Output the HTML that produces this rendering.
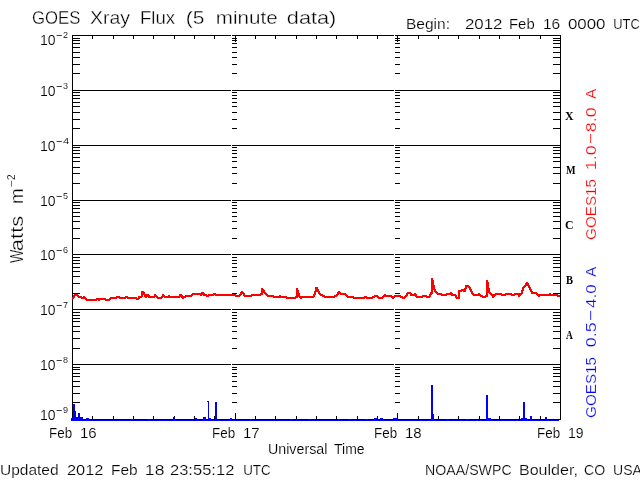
<!DOCTYPE html><html><head><meta charset="utf-8"><title>GOES Xray Flux</title><style>html,body{margin:0;padding:0;background:#fff;width:640px;height:480px;overflow:hidden}svg{display:block}</style></head><body><svg width="640" height="480" viewBox="0 0 640 480"><rect width="640" height="480" fill="#fff"/><g shape-rendering="crispEdges"><rect x="72" y="35" width="159" height="1" fill="#000"/><rect x="232" y="35" width="162" height="1" fill="#000"/><rect x="395" y="35" width="166" height="1" fill="#000"/><rect x="72" y="90" width="159" height="1" fill="#000"/><rect x="232" y="90" width="162" height="1" fill="#000"/><rect x="395" y="90" width="166" height="1" fill="#000"/><rect x="72" y="145" width="159" height="1" fill="#000"/><rect x="232" y="145" width="162" height="1" fill="#000"/><rect x="395" y="145" width="166" height="1" fill="#000"/><rect x="72" y="200" width="159" height="1" fill="#000"/><rect x="232" y="200" width="162" height="1" fill="#000"/><rect x="395" y="200" width="166" height="1" fill="#000"/><rect x="72" y="254" width="159" height="1" fill="#000"/><rect x="232" y="254" width="162" height="1" fill="#000"/><rect x="395" y="254" width="166" height="1" fill="#000"/><rect x="72" y="309" width="159" height="1" fill="#000"/><rect x="232" y="309" width="162" height="1" fill="#000"/><rect x="395" y="309" width="166" height="1" fill="#000"/><rect x="72" y="364" width="159" height="1" fill="#000"/><rect x="232" y="364" width="162" height="1" fill="#000"/><rect x="395" y="364" width="166" height="1" fill="#000"/><rect x="72" y="419" width="159" height="1" fill="#000"/><rect x="232" y="419" width="162" height="1" fill="#000"/><rect x="395" y="419" width="166" height="1" fill="#000"/><rect x="72" y="35" width="1" height="385" fill="#000"/><rect x="560" y="35" width="1" height="385" fill="#000"/><rect x="72" y="73" width="8" height="1" fill="#000"/><rect x="553" y="73" width="8" height="1" fill="#000"/><rect x="232" y="73" width="5" height="1" fill="#000"/><rect x="395" y="73" width="5" height="1" fill="#000"/><rect x="72" y="64" width="8" height="1" fill="#000"/><rect x="553" y="64" width="8" height="1" fill="#000"/><rect x="232" y="64" width="5" height="1" fill="#000"/><rect x="395" y="64" width="5" height="1" fill="#000"/><rect x="72" y="57" width="8" height="1" fill="#000"/><rect x="553" y="57" width="8" height="1" fill="#000"/><rect x="232" y="57" width="5" height="1" fill="#000"/><rect x="395" y="57" width="5" height="1" fill="#000"/><rect x="72" y="52" width="8" height="1" fill="#000"/><rect x="553" y="52" width="8" height="1" fill="#000"/><rect x="232" y="52" width="5" height="1" fill="#000"/><rect x="395" y="52" width="5" height="1" fill="#000"/><rect x="72" y="47" width="8" height="1" fill="#000"/><rect x="553" y="47" width="8" height="1" fill="#000"/><rect x="232" y="47" width="5" height="1" fill="#000"/><rect x="395" y="47" width="5" height="1" fill="#000"/><rect x="72" y="43" width="8" height="1" fill="#000"/><rect x="553" y="43" width="8" height="1" fill="#000"/><rect x="232" y="43" width="5" height="1" fill="#000"/><rect x="395" y="43" width="5" height="1" fill="#000"/><rect x="72" y="40" width="8" height="1" fill="#000"/><rect x="553" y="40" width="8" height="1" fill="#000"/><rect x="232" y="40" width="5" height="1" fill="#000"/><rect x="395" y="40" width="5" height="1" fill="#000"/><rect x="72" y="38" width="8" height="1" fill="#000"/><rect x="553" y="38" width="8" height="1" fill="#000"/><rect x="232" y="38" width="5" height="1" fill="#000"/><rect x="395" y="38" width="5" height="1" fill="#000"/><rect x="72" y="128" width="8" height="1" fill="#000"/><rect x="553" y="128" width="8" height="1" fill="#000"/><rect x="232" y="128" width="5" height="1" fill="#000"/><rect x="395" y="128" width="5" height="1" fill="#000"/><rect x="72" y="119" width="8" height="1" fill="#000"/><rect x="553" y="119" width="8" height="1" fill="#000"/><rect x="232" y="119" width="5" height="1" fill="#000"/><rect x="395" y="119" width="5" height="1" fill="#000"/><rect x="72" y="112" width="8" height="1" fill="#000"/><rect x="553" y="112" width="8" height="1" fill="#000"/><rect x="232" y="112" width="5" height="1" fill="#000"/><rect x="395" y="112" width="5" height="1" fill="#000"/><rect x="72" y="106" width="8" height="1" fill="#000"/><rect x="553" y="106" width="8" height="1" fill="#000"/><rect x="232" y="106" width="5" height="1" fill="#000"/><rect x="395" y="106" width="5" height="1" fill="#000"/><rect x="72" y="102" width="8" height="1" fill="#000"/><rect x="553" y="102" width="8" height="1" fill="#000"/><rect x="232" y="102" width="5" height="1" fill="#000"/><rect x="395" y="102" width="5" height="1" fill="#000"/><rect x="72" y="98" width="8" height="1" fill="#000"/><rect x="553" y="98" width="8" height="1" fill="#000"/><rect x="232" y="98" width="5" height="1" fill="#000"/><rect x="395" y="98" width="5" height="1" fill="#000"/><rect x="72" y="95" width="8" height="1" fill="#000"/><rect x="553" y="95" width="8" height="1" fill="#000"/><rect x="232" y="95" width="5" height="1" fill="#000"/><rect x="395" y="95" width="5" height="1" fill="#000"/><rect x="72" y="92" width="8" height="1" fill="#000"/><rect x="553" y="92" width="8" height="1" fill="#000"/><rect x="232" y="92" width="5" height="1" fill="#000"/><rect x="395" y="92" width="5" height="1" fill="#000"/><rect x="72" y="183" width="8" height="1" fill="#000"/><rect x="553" y="183" width="8" height="1" fill="#000"/><rect x="232" y="183" width="5" height="1" fill="#000"/><rect x="395" y="183" width="5" height="1" fill="#000"/><rect x="72" y="173" width="8" height="1" fill="#000"/><rect x="553" y="173" width="8" height="1" fill="#000"/><rect x="232" y="173" width="5" height="1" fill="#000"/><rect x="395" y="173" width="5" height="1" fill="#000"/><rect x="72" y="167" width="8" height="1" fill="#000"/><rect x="553" y="167" width="8" height="1" fill="#000"/><rect x="232" y="167" width="5" height="1" fill="#000"/><rect x="395" y="167" width="5" height="1" fill="#000"/><rect x="72" y="161" width="8" height="1" fill="#000"/><rect x="553" y="161" width="8" height="1" fill="#000"/><rect x="232" y="161" width="5" height="1" fill="#000"/><rect x="395" y="161" width="5" height="1" fill="#000"/><rect x="72" y="157" width="8" height="1" fill="#000"/><rect x="553" y="157" width="8" height="1" fill="#000"/><rect x="232" y="157" width="5" height="1" fill="#000"/><rect x="395" y="157" width="5" height="1" fill="#000"/><rect x="72" y="153" width="8" height="1" fill="#000"/><rect x="553" y="153" width="8" height="1" fill="#000"/><rect x="232" y="153" width="5" height="1" fill="#000"/><rect x="395" y="153" width="5" height="1" fill="#000"/><rect x="72" y="150" width="8" height="1" fill="#000"/><rect x="553" y="150" width="8" height="1" fill="#000"/><rect x="232" y="150" width="5" height="1" fill="#000"/><rect x="395" y="150" width="5" height="1" fill="#000"/><rect x="72" y="147" width="8" height="1" fill="#000"/><rect x="553" y="147" width="8" height="1" fill="#000"/><rect x="232" y="147" width="5" height="1" fill="#000"/><rect x="395" y="147" width="5" height="1" fill="#000"/><rect x="72" y="238" width="8" height="1" fill="#000"/><rect x="553" y="238" width="8" height="1" fill="#000"/><rect x="232" y="238" width="5" height="1" fill="#000"/><rect x="395" y="238" width="5" height="1" fill="#000"/><rect x="72" y="228" width="8" height="1" fill="#000"/><rect x="553" y="228" width="8" height="1" fill="#000"/><rect x="232" y="228" width="5" height="1" fill="#000"/><rect x="395" y="228" width="5" height="1" fill="#000"/><rect x="72" y="221" width="8" height="1" fill="#000"/><rect x="553" y="221" width="8" height="1" fill="#000"/><rect x="232" y="221" width="5" height="1" fill="#000"/><rect x="395" y="221" width="5" height="1" fill="#000"/><rect x="72" y="216" width="8" height="1" fill="#000"/><rect x="553" y="216" width="8" height="1" fill="#000"/><rect x="232" y="216" width="5" height="1" fill="#000"/><rect x="395" y="216" width="5" height="1" fill="#000"/><rect x="72" y="212" width="8" height="1" fill="#000"/><rect x="553" y="212" width="8" height="1" fill="#000"/><rect x="232" y="212" width="5" height="1" fill="#000"/><rect x="395" y="212" width="5" height="1" fill="#000"/><rect x="72" y="208" width="8" height="1" fill="#000"/><rect x="553" y="208" width="8" height="1" fill="#000"/><rect x="232" y="208" width="5" height="1" fill="#000"/><rect x="395" y="208" width="5" height="1" fill="#000"/><rect x="72" y="205" width="8" height="1" fill="#000"/><rect x="553" y="205" width="8" height="1" fill="#000"/><rect x="232" y="205" width="5" height="1" fill="#000"/><rect x="395" y="205" width="5" height="1" fill="#000"/><rect x="72" y="202" width="8" height="1" fill="#000"/><rect x="553" y="202" width="8" height="1" fill="#000"/><rect x="232" y="202" width="5" height="1" fill="#000"/><rect x="395" y="202" width="5" height="1" fill="#000"/><rect x="72" y="293" width="8" height="1" fill="#000"/><rect x="553" y="293" width="8" height="1" fill="#000"/><rect x="232" y="293" width="5" height="1" fill="#000"/><rect x="395" y="293" width="5" height="1" fill="#000"/><rect x="72" y="283" width="8" height="1" fill="#000"/><rect x="553" y="283" width="8" height="1" fill="#000"/><rect x="232" y="283" width="5" height="1" fill="#000"/><rect x="395" y="283" width="5" height="1" fill="#000"/><rect x="72" y="276" width="8" height="1" fill="#000"/><rect x="553" y="276" width="8" height="1" fill="#000"/><rect x="232" y="276" width="5" height="1" fill="#000"/><rect x="395" y="276" width="5" height="1" fill="#000"/><rect x="72" y="271" width="8" height="1" fill="#000"/><rect x="553" y="271" width="8" height="1" fill="#000"/><rect x="232" y="271" width="5" height="1" fill="#000"/><rect x="395" y="271" width="5" height="1" fill="#000"/><rect x="72" y="267" width="8" height="1" fill="#000"/><rect x="553" y="267" width="8" height="1" fill="#000"/><rect x="232" y="267" width="5" height="1" fill="#000"/><rect x="395" y="267" width="5" height="1" fill="#000"/><rect x="72" y="263" width="8" height="1" fill="#000"/><rect x="553" y="263" width="8" height="1" fill="#000"/><rect x="232" y="263" width="5" height="1" fill="#000"/><rect x="395" y="263" width="5" height="1" fill="#000"/><rect x="72" y="260" width="8" height="1" fill="#000"/><rect x="553" y="260" width="8" height="1" fill="#000"/><rect x="232" y="260" width="5" height="1" fill="#000"/><rect x="395" y="260" width="5" height="1" fill="#000"/><rect x="72" y="257" width="8" height="1" fill="#000"/><rect x="553" y="257" width="8" height="1" fill="#000"/><rect x="232" y="257" width="5" height="1" fill="#000"/><rect x="395" y="257" width="5" height="1" fill="#000"/><rect x="72" y="348" width="8" height="1" fill="#000"/><rect x="553" y="348" width="8" height="1" fill="#000"/><rect x="232" y="348" width="5" height="1" fill="#000"/><rect x="395" y="348" width="5" height="1" fill="#000"/><rect x="72" y="338" width="8" height="1" fill="#000"/><rect x="553" y="338" width="8" height="1" fill="#000"/><rect x="232" y="338" width="5" height="1" fill="#000"/><rect x="395" y="338" width="5" height="1" fill="#000"/><rect x="72" y="331" width="8" height="1" fill="#000"/><rect x="553" y="331" width="8" height="1" fill="#000"/><rect x="232" y="331" width="5" height="1" fill="#000"/><rect x="395" y="331" width="5" height="1" fill="#000"/><rect x="72" y="326" width="8" height="1" fill="#000"/><rect x="553" y="326" width="8" height="1" fill="#000"/><rect x="232" y="326" width="5" height="1" fill="#000"/><rect x="395" y="326" width="5" height="1" fill="#000"/><rect x="72" y="321" width="8" height="1" fill="#000"/><rect x="553" y="321" width="8" height="1" fill="#000"/><rect x="232" y="321" width="5" height="1" fill="#000"/><rect x="395" y="321" width="5" height="1" fill="#000"/><rect x="72" y="318" width="8" height="1" fill="#000"/><rect x="553" y="318" width="8" height="1" fill="#000"/><rect x="232" y="318" width="5" height="1" fill="#000"/><rect x="395" y="318" width="5" height="1" fill="#000"/><rect x="72" y="315" width="8" height="1" fill="#000"/><rect x="553" y="315" width="8" height="1" fill="#000"/><rect x="232" y="315" width="5" height="1" fill="#000"/><rect x="395" y="315" width="5" height="1" fill="#000"/><rect x="72" y="312" width="8" height="1" fill="#000"/><rect x="553" y="312" width="8" height="1" fill="#000"/><rect x="232" y="312" width="5" height="1" fill="#000"/><rect x="395" y="312" width="5" height="1" fill="#000"/><rect x="72" y="402" width="8" height="1" fill="#000"/><rect x="553" y="402" width="8" height="1" fill="#000"/><rect x="232" y="402" width="5" height="1" fill="#000"/><rect x="395" y="402" width="5" height="1" fill="#000"/><rect x="72" y="393" width="8" height="1" fill="#000"/><rect x="553" y="393" width="8" height="1" fill="#000"/><rect x="232" y="393" width="5" height="1" fill="#000"/><rect x="395" y="393" width="5" height="1" fill="#000"/><rect x="72" y="386" width="8" height="1" fill="#000"/><rect x="553" y="386" width="8" height="1" fill="#000"/><rect x="232" y="386" width="5" height="1" fill="#000"/><rect x="395" y="386" width="5" height="1" fill="#000"/><rect x="72" y="381" width="8" height="1" fill="#000"/><rect x="553" y="381" width="8" height="1" fill="#000"/><rect x="232" y="381" width="5" height="1" fill="#000"/><rect x="395" y="381" width="5" height="1" fill="#000"/><rect x="72" y="376" width="8" height="1" fill="#000"/><rect x="553" y="376" width="8" height="1" fill="#000"/><rect x="232" y="376" width="5" height="1" fill="#000"/><rect x="395" y="376" width="5" height="1" fill="#000"/><rect x="72" y="373" width="8" height="1" fill="#000"/><rect x="553" y="373" width="8" height="1" fill="#000"/><rect x="232" y="373" width="5" height="1" fill="#000"/><rect x="395" y="373" width="5" height="1" fill="#000"/><rect x="72" y="369" width="8" height="1" fill="#000"/><rect x="553" y="369" width="8" height="1" fill="#000"/><rect x="232" y="369" width="5" height="1" fill="#000"/><rect x="395" y="369" width="5" height="1" fill="#000"/><rect x="72" y="367" width="8" height="1" fill="#000"/><rect x="553" y="367" width="8" height="1" fill="#000"/><rect x="232" y="367" width="5" height="1" fill="#000"/><rect x="395" y="367" width="5" height="1" fill="#000"/><rect x="92" y="36" width="1" height="3" fill="#000"/><rect x="92" y="416" width="1" height="3" fill="#000"/><rect x="113" y="36" width="1" height="3" fill="#000"/><rect x="113" y="416" width="1" height="3" fill="#000"/><rect x="133" y="36" width="1" height="3" fill="#000"/><rect x="133" y="416" width="1" height="3" fill="#000"/><rect x="153" y="36" width="1" height="3" fill="#000"/><rect x="153" y="416" width="1" height="3" fill="#000"/><rect x="174" y="36" width="1" height="3" fill="#000"/><rect x="174" y="416" width="1" height="3" fill="#000"/><rect x="194" y="36" width="1" height="3" fill="#000"/><rect x="194" y="416" width="1" height="3" fill="#000"/><rect x="214" y="36" width="1" height="3" fill="#000"/><rect x="214" y="416" width="1" height="3" fill="#000"/><rect x="235" y="36" width="1" height="6" fill="#000"/><rect x="235" y="413" width="1" height="6" fill="#000"/><rect x="255" y="36" width="1" height="3" fill="#000"/><rect x="255" y="416" width="1" height="3" fill="#000"/><rect x="275" y="36" width="1" height="3" fill="#000"/><rect x="275" y="416" width="1" height="3" fill="#000"/><rect x="296" y="36" width="1" height="3" fill="#000"/><rect x="296" y="416" width="1" height="3" fill="#000"/><rect x="316" y="36" width="1" height="3" fill="#000"/><rect x="316" y="416" width="1" height="3" fill="#000"/><rect x="336" y="36" width="1" height="3" fill="#000"/><rect x="336" y="416" width="1" height="3" fill="#000"/><rect x="357" y="36" width="1" height="3" fill="#000"/><rect x="357" y="416" width="1" height="3" fill="#000"/><rect x="377" y="36" width="1" height="3" fill="#000"/><rect x="377" y="416" width="1" height="3" fill="#000"/><rect x="397" y="36" width="1" height="6" fill="#000"/><rect x="397" y="413" width="1" height="6" fill="#000"/><rect x="418" y="36" width="1" height="3" fill="#000"/><rect x="418" y="416" width="1" height="3" fill="#000"/><rect x="438" y="36" width="1" height="3" fill="#000"/><rect x="438" y="416" width="1" height="3" fill="#000"/><rect x="458" y="36" width="1" height="3" fill="#000"/><rect x="458" y="416" width="1" height="3" fill="#000"/><rect x="479" y="36" width="1" height="3" fill="#000"/><rect x="479" y="416" width="1" height="3" fill="#000"/><rect x="499" y="36" width="1" height="3" fill="#000"/><rect x="499" y="416" width="1" height="3" fill="#000"/><rect x="519" y="36" width="1" height="3" fill="#000"/><rect x="519" y="416" width="1" height="3" fill="#000"/><rect x="540" y="36" width="1" height="3" fill="#000"/><rect x="540" y="416" width="1" height="3" fill="#000"/><rect x="72" y="297" width="1" height="2" fill="#ff0000"/><rect x="73" y="295" width="1" height="4" fill="#ff0000"/><rect x="74" y="294" width="1" height="4" fill="#ff0000"/><rect x="75" y="294" width="1" height="2" fill="#ff0000"/><rect x="76" y="294" width="1" height="2" fill="#ff0000"/><rect x="77" y="294" width="1" height="3" fill="#ff0000"/><rect x="78" y="295" width="1" height="3" fill="#ff0000"/><rect x="79" y="296" width="1" height="2" fill="#ff0000"/><rect x="80" y="296" width="1" height="2" fill="#ff0000"/><rect x="81" y="296" width="1" height="3" fill="#ff0000"/><rect x="82" y="297" width="1" height="2" fill="#ff0000"/><rect x="83" y="296" width="1" height="3" fill="#ff0000"/><rect x="84" y="296" width="1" height="3" fill="#ff0000"/><rect x="85" y="297" width="1" height="3" fill="#ff0000"/><rect x="86" y="298" width="1" height="3" fill="#ff0000"/><rect x="87" y="299" width="1" height="2" fill="#ff0000"/><rect x="88" y="299" width="1" height="2" fill="#ff0000"/><rect x="89" y="299" width="1" height="2" fill="#ff0000"/><rect x="90" y="299" width="1" height="2" fill="#ff0000"/><rect x="91" y="299" width="1" height="2" fill="#ff0000"/><rect x="92" y="299" width="1" height="2" fill="#ff0000"/><rect x="93" y="299" width="1" height="2" fill="#ff0000"/><rect x="94" y="299" width="1" height="2" fill="#ff0000"/><rect x="95" y="299" width="1" height="2" fill="#ff0000"/><rect x="96" y="298" width="1" height="3" fill="#ff0000"/><rect x="97" y="298" width="1" height="2" fill="#ff0000"/><rect x="98" y="298" width="1" height="3" fill="#ff0000"/><rect x="99" y="298" width="1" height="3" fill="#ff0000"/><rect x="100" y="298" width="1" height="2" fill="#ff0000"/><rect x="101" y="298" width="1" height="2" fill="#ff0000"/><rect x="102" y="298" width="1" height="2" fill="#ff0000"/><rect x="103" y="298" width="1" height="2" fill="#ff0000"/><rect x="104" y="298" width="1" height="2" fill="#ff0000"/><rect x="105" y="298" width="1" height="3" fill="#ff0000"/><rect x="106" y="299" width="1" height="2" fill="#ff0000"/><rect x="107" y="299" width="1" height="2" fill="#ff0000"/><rect x="108" y="299" width="1" height="2" fill="#ff0000"/><rect x="109" y="298" width="1" height="3" fill="#ff0000"/><rect x="110" y="297" width="1" height="3" fill="#ff0000"/><rect x="111" y="297" width="1" height="2" fill="#ff0000"/><rect x="112" y="297" width="1" height="2" fill="#ff0000"/><rect x="113" y="297" width="1" height="2" fill="#ff0000"/><rect x="114" y="297" width="1" height="2" fill="#ff0000"/><rect x="115" y="297" width="1" height="2" fill="#ff0000"/><rect x="116" y="296" width="1" height="3" fill="#ff0000"/><rect x="117" y="296" width="1" height="2" fill="#ff0000"/><rect x="118" y="296" width="1" height="2" fill="#ff0000"/><rect x="119" y="296" width="1" height="3" fill="#ff0000"/><rect x="120" y="297" width="1" height="2" fill="#ff0000"/><rect x="121" y="297" width="1" height="2" fill="#ff0000"/><rect x="122" y="297" width="1" height="2" fill="#ff0000"/><rect x="123" y="297" width="1" height="2" fill="#ff0000"/><rect x="124" y="297" width="1" height="2" fill="#ff0000"/><rect x="125" y="296" width="1" height="3" fill="#ff0000"/><rect x="126" y="296" width="1" height="2" fill="#ff0000"/><rect x="127" y="296" width="1" height="3" fill="#ff0000"/><rect x="128" y="297" width="1" height="2" fill="#ff0000"/><rect x="129" y="297" width="1" height="2" fill="#ff0000"/><rect x="130" y="297" width="1" height="2" fill="#ff0000"/><rect x="131" y="297" width="1" height="2" fill="#ff0000"/><rect x="132" y="297" width="1" height="2" fill="#ff0000"/><rect x="133" y="297" width="1" height="2" fill="#ff0000"/><rect x="134" y="297" width="1" height="2" fill="#ff0000"/><rect x="135" y="297" width="1" height="2" fill="#ff0000"/><rect x="136" y="297" width="1" height="3" fill="#ff0000"/><rect x="137" y="298" width="1" height="2" fill="#ff0000"/><rect x="138" y="296" width="1" height="4" fill="#ff0000"/><rect x="139" y="296" width="1" height="3" fill="#ff0000"/><rect x="140" y="296" width="1" height="2" fill="#ff0000"/><rect x="141" y="291" width="1" height="7" fill="#ff0000"/><rect x="142" y="291" width="1" height="6" fill="#ff0000"/><rect x="143" y="291" width="1" height="4" fill="#ff0000"/><rect x="144" y="292" width="1" height="5" fill="#ff0000"/><rect x="145" y="294" width="1" height="4" fill="#ff0000"/><rect x="146" y="294" width="1" height="4" fill="#ff0000"/><rect x="147" y="294" width="1" height="3" fill="#ff0000"/><rect x="148" y="294" width="1" height="4" fill="#ff0000"/><rect x="149" y="295" width="1" height="3" fill="#ff0000"/><rect x="150" y="296" width="1" height="2" fill="#ff0000"/><rect x="151" y="296" width="1" height="2" fill="#ff0000"/><rect x="152" y="296" width="1" height="2" fill="#ff0000"/><rect x="153" y="296" width="1" height="2" fill="#ff0000"/><rect x="154" y="294" width="1" height="4" fill="#ff0000"/><rect x="155" y="294" width="1" height="3" fill="#ff0000"/><rect x="156" y="295" width="1" height="3" fill="#ff0000"/><rect x="157" y="296" width="1" height="3" fill="#ff0000"/><rect x="158" y="297" width="1" height="2" fill="#ff0000"/><rect x="159" y="297" width="1" height="2" fill="#ff0000"/><rect x="160" y="297" width="1" height="2" fill="#ff0000"/><rect x="161" y="296" width="1" height="3" fill="#ff0000"/><rect x="162" y="294" width="1" height="4" fill="#ff0000"/><rect x="163" y="294" width="1" height="3" fill="#ff0000"/><rect x="164" y="295" width="1" height="3" fill="#ff0000"/><rect x="165" y="296" width="1" height="2" fill="#ff0000"/><rect x="166" y="296" width="1" height="2" fill="#ff0000"/><rect x="167" y="296" width="1" height="2" fill="#ff0000"/><rect x="168" y="295" width="1" height="3" fill="#ff0000"/><rect x="169" y="295" width="1" height="3" fill="#ff0000"/><rect x="170" y="296" width="1" height="2" fill="#ff0000"/><rect x="171" y="296" width="1" height="2" fill="#ff0000"/><rect x="172" y="296" width="1" height="2" fill="#ff0000"/><rect x="173" y="296" width="1" height="2" fill="#ff0000"/><rect x="174" y="296" width="1" height="2" fill="#ff0000"/><rect x="175" y="296" width="1" height="2" fill="#ff0000"/><rect x="176" y="296" width="1" height="2" fill="#ff0000"/><rect x="177" y="296" width="1" height="2" fill="#ff0000"/><rect x="178" y="296" width="1" height="2" fill="#ff0000"/><rect x="179" y="294" width="1" height="4" fill="#ff0000"/><rect x="180" y="294" width="1" height="3" fill="#ff0000"/><rect x="181" y="294" width="1" height="4" fill="#ff0000"/><rect x="182" y="295" width="1" height="4" fill="#ff0000"/><rect x="183" y="296" width="1" height="3" fill="#ff0000"/><rect x="184" y="296" width="1" height="2" fill="#ff0000"/><rect x="185" y="295" width="1" height="3" fill="#ff0000"/><rect x="186" y="295" width="1" height="2" fill="#ff0000"/><rect x="187" y="295" width="1" height="2" fill="#ff0000"/><rect x="188" y="295" width="1" height="2" fill="#ff0000"/><rect x="189" y="295" width="1" height="2" fill="#ff0000"/><rect x="190" y="295" width="1" height="2" fill="#ff0000"/><rect x="191" y="294" width="1" height="3" fill="#ff0000"/><rect x="192" y="293" width="1" height="3" fill="#ff0000"/><rect x="193" y="293" width="1" height="2" fill="#ff0000"/><rect x="194" y="293" width="1" height="2" fill="#ff0000"/><rect x="195" y="293" width="1" height="2" fill="#ff0000"/><rect x="196" y="293" width="1" height="2" fill="#ff0000"/><rect x="197" y="293" width="1" height="2" fill="#ff0000"/><rect x="198" y="293" width="1" height="2" fill="#ff0000"/><rect x="199" y="293" width="1" height="2" fill="#ff0000"/><rect x="200" y="293" width="1" height="3" fill="#ff0000"/><rect x="201" y="292" width="1" height="4" fill="#ff0000"/><rect x="202" y="292" width="1" height="3" fill="#ff0000"/><rect x="203" y="292" width="1" height="4" fill="#ff0000"/><rect x="204" y="293" width="1" height="3" fill="#ff0000"/><rect x="205" y="294" width="1" height="2" fill="#ff0000"/><rect x="206" y="294" width="1" height="3" fill="#ff0000"/><rect x="207" y="295" width="1" height="2" fill="#ff0000"/><rect x="208" y="294" width="1" height="3" fill="#ff0000"/><rect x="209" y="294" width="1" height="2" fill="#ff0000"/><rect x="210" y="294" width="1" height="2" fill="#ff0000"/><rect x="211" y="294" width="1" height="2" fill="#ff0000"/><rect x="212" y="294" width="1" height="2" fill="#ff0000"/><rect x="213" y="293" width="1" height="3" fill="#ff0000"/><rect x="214" y="293" width="1" height="2" fill="#ff0000"/><rect x="215" y="293" width="1" height="3" fill="#ff0000"/><rect x="216" y="294" width="1" height="2" fill="#ff0000"/><rect x="217" y="294" width="1" height="2" fill="#ff0000"/><rect x="218" y="294" width="1" height="2" fill="#ff0000"/><rect x="219" y="294" width="1" height="2" fill="#ff0000"/><rect x="220" y="294" width="1" height="2" fill="#ff0000"/><rect x="221" y="294" width="1" height="2" fill="#ff0000"/><rect x="222" y="294" width="1" height="2" fill="#ff0000"/><rect x="223" y="294" width="1" height="2" fill="#ff0000"/><rect x="224" y="294" width="1" height="2" fill="#ff0000"/><rect x="225" y="294" width="1" height="2" fill="#ff0000"/><rect x="226" y="294" width="1" height="2" fill="#ff0000"/><rect x="227" y="294" width="1" height="2" fill="#ff0000"/><rect x="228" y="294" width="1" height="2" fill="#ff0000"/><rect x="229" y="294" width="1" height="2" fill="#ff0000"/><rect x="230" y="294" width="1" height="2" fill="#ff0000"/><rect x="231" y="294" width="1" height="2" fill="#ff0000"/><rect x="232" y="294" width="1" height="2" fill="#ff0000"/><rect x="233" y="294" width="1" height="2" fill="#ff0000"/><rect x="234" y="294" width="1" height="2" fill="#ff0000"/><rect x="235" y="294" width="1" height="3" fill="#ff0000"/><rect x="236" y="295" width="1" height="2" fill="#ff0000"/><rect x="237" y="295" width="1" height="2" fill="#ff0000"/><rect x="238" y="295" width="1" height="2" fill="#ff0000"/><rect x="239" y="294" width="1" height="3" fill="#ff0000"/><rect x="240" y="292" width="1" height="4" fill="#ff0000"/><rect x="241" y="291" width="1" height="4" fill="#ff0000"/><rect x="242" y="291" width="1" height="3" fill="#ff0000"/><rect x="243" y="292" width="1" height="4" fill="#ff0000"/><rect x="244" y="293" width="1" height="4" fill="#ff0000"/><rect x="245" y="295" width="1" height="2" fill="#ff0000"/><rect x="246" y="295" width="1" height="2" fill="#ff0000"/><rect x="247" y="295" width="1" height="2" fill="#ff0000"/><rect x="248" y="295" width="1" height="2" fill="#ff0000"/><rect x="249" y="295" width="1" height="2" fill="#ff0000"/><rect x="250" y="295" width="1" height="2" fill="#ff0000"/><rect x="251" y="294" width="1" height="3" fill="#ff0000"/><rect x="252" y="294" width="1" height="2" fill="#ff0000"/><rect x="253" y="294" width="1" height="2" fill="#ff0000"/><rect x="254" y="294" width="1" height="2" fill="#ff0000"/><rect x="255" y="294" width="1" height="2" fill="#ff0000"/><rect x="256" y="294" width="1" height="2" fill="#ff0000"/><rect x="257" y="294" width="1" height="2" fill="#ff0000"/><rect x="258" y="294" width="1" height="2" fill="#ff0000"/><rect x="259" y="294" width="1" height="2" fill="#ff0000"/><rect x="260" y="293" width="1" height="3" fill="#ff0000"/><rect x="261" y="288" width="1" height="7" fill="#ff0000"/><rect x="262" y="288" width="1" height="7" fill="#ff0000"/><rect x="263" y="289" width="1" height="4" fill="#ff0000"/><rect x="264" y="290" width="1" height="4" fill="#ff0000"/><rect x="265" y="292" width="1" height="3" fill="#ff0000"/><rect x="266" y="293" width="1" height="3" fill="#ff0000"/><rect x="267" y="294" width="1" height="3" fill="#ff0000"/><rect x="268" y="295" width="1" height="2" fill="#ff0000"/><rect x="269" y="295" width="1" height="2" fill="#ff0000"/><rect x="270" y="295" width="1" height="2" fill="#ff0000"/><rect x="271" y="295" width="1" height="2" fill="#ff0000"/><rect x="272" y="295" width="1" height="2" fill="#ff0000"/><rect x="273" y="295" width="1" height="3" fill="#ff0000"/><rect x="274" y="296" width="1" height="2" fill="#ff0000"/><rect x="275" y="296" width="1" height="2" fill="#ff0000"/><rect x="276" y="296" width="1" height="2" fill="#ff0000"/><rect x="277" y="296" width="1" height="2" fill="#ff0000"/><rect x="278" y="296" width="1" height="2" fill="#ff0000"/><rect x="279" y="295" width="1" height="3" fill="#ff0000"/><rect x="280" y="295" width="1" height="3" fill="#ff0000"/><rect x="281" y="296" width="1" height="2" fill="#ff0000"/><rect x="282" y="296" width="1" height="2" fill="#ff0000"/><rect x="283" y="296" width="1" height="2" fill="#ff0000"/><rect x="284" y="296" width="1" height="2" fill="#ff0000"/><rect x="285" y="296" width="1" height="2" fill="#ff0000"/><rect x="286" y="296" width="1" height="3" fill="#ff0000"/><rect x="287" y="297" width="1" height="2" fill="#ff0000"/><rect x="288" y="297" width="1" height="2" fill="#ff0000"/><rect x="289" y="297" width="1" height="2" fill="#ff0000"/><rect x="290" y="297" width="1" height="2" fill="#ff0000"/><rect x="291" y="297" width="1" height="2" fill="#ff0000"/><rect x="292" y="297" width="1" height="2" fill="#ff0000"/><rect x="293" y="297" width="1" height="2" fill="#ff0000"/><rect x="294" y="297" width="1" height="2" fill="#ff0000"/><rect x="295" y="296" width="1" height="3" fill="#ff0000"/><rect x="296" y="288" width="1" height="10" fill="#ff0000"/><rect x="297" y="288" width="1" height="10" fill="#ff0000"/><rect x="298" y="290" width="1" height="7" fill="#ff0000"/><rect x="299" y="293" width="1" height="5" fill="#ff0000"/><rect x="300" y="296" width="1" height="3" fill="#ff0000"/><rect x="301" y="296" width="1" height="3" fill="#ff0000"/><rect x="302" y="296" width="1" height="2" fill="#ff0000"/><rect x="303" y="296" width="1" height="2" fill="#ff0000"/><rect x="304" y="296" width="1" height="2" fill="#ff0000"/><rect x="305" y="296" width="1" height="2" fill="#ff0000"/><rect x="306" y="296" width="1" height="2" fill="#ff0000"/><rect x="307" y="296" width="1" height="2" fill="#ff0000"/><rect x="308" y="296" width="1" height="2" fill="#ff0000"/><rect x="309" y="296" width="1" height="2" fill="#ff0000"/><rect x="310" y="296" width="1" height="2" fill="#ff0000"/><rect x="311" y="296" width="1" height="2" fill="#ff0000"/><rect x="312" y="296" width="1" height="2" fill="#ff0000"/><rect x="313" y="294" width="1" height="4" fill="#ff0000"/><rect x="314" y="291" width="1" height="6" fill="#ff0000"/><rect x="315" y="287" width="1" height="8" fill="#ff0000"/><rect x="316" y="287" width="1" height="5" fill="#ff0000"/><rect x="317" y="287" width="1" height="5" fill="#ff0000"/><rect x="318" y="289" width="1" height="5" fill="#ff0000"/><rect x="319" y="291" width="1" height="4" fill="#ff0000"/><rect x="320" y="293" width="1" height="3" fill="#ff0000"/><rect x="321" y="294" width="1" height="2" fill="#ff0000"/><rect x="322" y="294" width="1" height="3" fill="#ff0000"/><rect x="323" y="295" width="1" height="2" fill="#ff0000"/><rect x="324" y="295" width="1" height="3" fill="#ff0000"/><rect x="325" y="296" width="1" height="2" fill="#ff0000"/><rect x="326" y="296" width="1" height="2" fill="#ff0000"/><rect x="327" y="296" width="1" height="2" fill="#ff0000"/><rect x="328" y="296" width="1" height="2" fill="#ff0000"/><rect x="329" y="296" width="1" height="2" fill="#ff0000"/><rect x="330" y="296" width="1" height="2" fill="#ff0000"/><rect x="331" y="296" width="1" height="2" fill="#ff0000"/><rect x="332" y="296" width="1" height="2" fill="#ff0000"/><rect x="333" y="296" width="1" height="2" fill="#ff0000"/><rect x="334" y="295" width="1" height="3" fill="#ff0000"/><rect x="335" y="295" width="1" height="2" fill="#ff0000"/><rect x="336" y="294" width="1" height="3" fill="#ff0000"/><rect x="337" y="292" width="1" height="4" fill="#ff0000"/><rect x="338" y="291" width="1" height="4" fill="#ff0000"/><rect x="339" y="291" width="1" height="3" fill="#ff0000"/><rect x="340" y="292" width="1" height="3" fill="#ff0000"/><rect x="341" y="293" width="1" height="2" fill="#ff0000"/><rect x="342" y="293" width="1" height="2" fill="#ff0000"/><rect x="343" y="293" width="1" height="2" fill="#ff0000"/><rect x="344" y="293" width="1" height="2" fill="#ff0000"/><rect x="345" y="293" width="1" height="3" fill="#ff0000"/><rect x="346" y="294" width="1" height="3" fill="#ff0000"/><rect x="347" y="295" width="1" height="3" fill="#ff0000"/><rect x="348" y="296" width="1" height="2" fill="#ff0000"/><rect x="349" y="296" width="1" height="2" fill="#ff0000"/><rect x="350" y="296" width="1" height="2" fill="#ff0000"/><rect x="351" y="296" width="1" height="2" fill="#ff0000"/><rect x="352" y="296" width="1" height="2" fill="#ff0000"/><rect x="353" y="296" width="1" height="3" fill="#ff0000"/><rect x="354" y="297" width="1" height="2" fill="#ff0000"/><rect x="355" y="297" width="1" height="2" fill="#ff0000"/><rect x="356" y="297" width="1" height="2" fill="#ff0000"/><rect x="357" y="297" width="1" height="2" fill="#ff0000"/><rect x="358" y="297" width="1" height="2" fill="#ff0000"/><rect x="359" y="297" width="1" height="2" fill="#ff0000"/><rect x="360" y="297" width="1" height="2" fill="#ff0000"/><rect x="361" y="297" width="1" height="2" fill="#ff0000"/><rect x="362" y="297" width="1" height="2" fill="#ff0000"/><rect x="363" y="297" width="1" height="2" fill="#ff0000"/><rect x="364" y="296" width="1" height="3" fill="#ff0000"/><rect x="365" y="296" width="1" height="2" fill="#ff0000"/><rect x="366" y="296" width="1" height="3" fill="#ff0000"/><rect x="367" y="297" width="1" height="2" fill="#ff0000"/><rect x="368" y="297" width="1" height="2" fill="#ff0000"/><rect x="369" y="297" width="1" height="2" fill="#ff0000"/><rect x="370" y="297" width="1" height="2" fill="#ff0000"/><rect x="371" y="297" width="1" height="2" fill="#ff0000"/><rect x="372" y="296" width="1" height="3" fill="#ff0000"/><rect x="373" y="296" width="1" height="2" fill="#ff0000"/><rect x="374" y="295" width="1" height="3" fill="#ff0000"/><rect x="375" y="295" width="1" height="2" fill="#ff0000"/><rect x="376" y="295" width="1" height="2" fill="#ff0000"/><rect x="377" y="295" width="1" height="3" fill="#ff0000"/><rect x="378" y="296" width="1" height="3" fill="#ff0000"/><rect x="379" y="297" width="1" height="2" fill="#ff0000"/><rect x="380" y="297" width="1" height="2" fill="#ff0000"/><rect x="381" y="297" width="1" height="2" fill="#ff0000"/><rect x="382" y="296" width="1" height="3" fill="#ff0000"/><rect x="383" y="295" width="1" height="3" fill="#ff0000"/><rect x="384" y="294" width="1" height="3" fill="#ff0000"/><rect x="385" y="294" width="1" height="3" fill="#ff0000"/><rect x="386" y="295" width="1" height="2" fill="#ff0000"/><rect x="387" y="295" width="1" height="2" fill="#ff0000"/><rect x="388" y="295" width="1" height="2" fill="#ff0000"/><rect x="389" y="295" width="1" height="2" fill="#ff0000"/><rect x="390" y="295" width="1" height="2" fill="#ff0000"/><rect x="391" y="295" width="1" height="3" fill="#ff0000"/><rect x="392" y="296" width="1" height="3" fill="#ff0000"/><rect x="393" y="296" width="1" height="3" fill="#ff0000"/><rect x="394" y="295" width="1" height="3" fill="#ff0000"/><rect x="395" y="295" width="1" height="2" fill="#ff0000"/><rect x="396" y="295" width="1" height="2" fill="#ff0000"/><rect x="397" y="295" width="1" height="2" fill="#ff0000"/><rect x="398" y="295" width="1" height="2" fill="#ff0000"/><rect x="399" y="295" width="1" height="2" fill="#ff0000"/><rect x="400" y="295" width="1" height="3" fill="#ff0000"/><rect x="401" y="296" width="1" height="2" fill="#ff0000"/><rect x="402" y="296" width="1" height="3" fill="#ff0000"/><rect x="403" y="297" width="1" height="2" fill="#ff0000"/><rect x="404" y="296" width="1" height="3" fill="#ff0000"/><rect x="405" y="295" width="1" height="3" fill="#ff0000"/><rect x="406" y="293" width="1" height="4" fill="#ff0000"/><rect x="407" y="292" width="1" height="4" fill="#ff0000"/><rect x="408" y="292" width="1" height="2" fill="#ff0000"/><rect x="409" y="292" width="1" height="2" fill="#ff0000"/><rect x="410" y="292" width="1" height="4" fill="#ff0000"/><rect x="411" y="293" width="1" height="3" fill="#ff0000"/><rect x="412" y="294" width="1" height="2" fill="#ff0000"/><rect x="413" y="294" width="1" height="2" fill="#ff0000"/><rect x="414" y="293" width="1" height="3" fill="#ff0000"/><rect x="415" y="293" width="1" height="4" fill="#ff0000"/><rect x="416" y="294" width="1" height="4" fill="#ff0000"/><rect x="417" y="296" width="1" height="2" fill="#ff0000"/><rect x="418" y="296" width="1" height="2" fill="#ff0000"/><rect x="419" y="296" width="1" height="2" fill="#ff0000"/><rect x="420" y="296" width="1" height="2" fill="#ff0000"/><rect x="421" y="296" width="1" height="2" fill="#ff0000"/><rect x="422" y="295" width="1" height="3" fill="#ff0000"/><rect x="423" y="295" width="1" height="2" fill="#ff0000"/><rect x="424" y="295" width="1" height="2" fill="#ff0000"/><rect x="425" y="295" width="1" height="2" fill="#ff0000"/><rect x="426" y="295" width="1" height="3" fill="#ff0000"/><rect x="427" y="296" width="1" height="2" fill="#ff0000"/><rect x="428" y="296" width="1" height="2" fill="#ff0000"/><rect x="429" y="294" width="1" height="4" fill="#ff0000"/><rect x="430" y="292" width="1" height="5" fill="#ff0000"/><rect x="431" y="278" width="1" height="17" fill="#ff0000"/><rect x="432" y="278" width="1" height="16" fill="#ff0000"/><rect x="433" y="280" width="1" height="10" fill="#ff0000"/><rect x="434" y="285" width="1" height="7" fill="#ff0000"/><rect x="435" y="289" width="1" height="4" fill="#ff0000"/><rect x="436" y="291" width="1" height="3" fill="#ff0000"/><rect x="437" y="292" width="1" height="3" fill="#ff0000"/><rect x="438" y="293" width="1" height="2" fill="#ff0000"/><rect x="439" y="293" width="1" height="2" fill="#ff0000"/><rect x="440" y="293" width="1" height="2" fill="#ff0000"/><rect x="441" y="293" width="1" height="3" fill="#ff0000"/><rect x="442" y="294" width="1" height="2" fill="#ff0000"/><rect x="443" y="294" width="1" height="2" fill="#ff0000"/><rect x="444" y="294" width="1" height="2" fill="#ff0000"/><rect x="445" y="294" width="1" height="2" fill="#ff0000"/><rect x="446" y="293" width="1" height="3" fill="#ff0000"/><rect x="447" y="293" width="1" height="2" fill="#ff0000"/><rect x="448" y="293" width="1" height="2" fill="#ff0000"/><rect x="449" y="293" width="1" height="2" fill="#ff0000"/><rect x="450" y="292" width="1" height="3" fill="#ff0000"/><rect x="451" y="292" width="1" height="4" fill="#ff0000"/><rect x="452" y="293" width="1" height="3" fill="#ff0000"/><rect x="453" y="294" width="1" height="2" fill="#ff0000"/><rect x="454" y="294" width="1" height="2" fill="#ff0000"/><rect x="455" y="294" width="1" height="4" fill="#ff0000"/><rect x="456" y="295" width="1" height="4" fill="#ff0000"/><rect x="457" y="297" width="1" height="2" fill="#ff0000"/><rect x="458" y="290" width="1" height="9" fill="#ff0000"/><rect x="459" y="290" width="1" height="9" fill="#ff0000"/><rect x="460" y="290" width="1" height="2" fill="#ff0000"/><rect x="461" y="289" width="1" height="3" fill="#ff0000"/><rect x="462" y="289" width="1" height="2" fill="#ff0000"/><rect x="463" y="289" width="1" height="3" fill="#ff0000"/><rect x="464" y="288" width="1" height="4" fill="#ff0000"/><rect x="465" y="285" width="1" height="7" fill="#ff0000"/><rect x="466" y="285" width="1" height="4" fill="#ff0000"/><rect x="467" y="285" width="1" height="2" fill="#ff0000"/><rect x="468" y="285" width="1" height="3" fill="#ff0000"/><rect x="469" y="286" width="1" height="4" fill="#ff0000"/><rect x="470" y="287" width="1" height="5" fill="#ff0000"/><rect x="471" y="289" width="1" height="5" fill="#ff0000"/><rect x="472" y="291" width="1" height="4" fill="#ff0000"/><rect x="473" y="293" width="1" height="3" fill="#ff0000"/><rect x="474" y="294" width="1" height="2" fill="#ff0000"/><rect x="475" y="294" width="1" height="2" fill="#ff0000"/><rect x="476" y="294" width="1" height="2" fill="#ff0000"/><rect x="477" y="294" width="1" height="2" fill="#ff0000"/><rect x="478" y="293" width="1" height="3" fill="#ff0000"/><rect x="479" y="293" width="1" height="3" fill="#ff0000"/><rect x="480" y="294" width="1" height="3" fill="#ff0000"/><rect x="481" y="295" width="1" height="2" fill="#ff0000"/><rect x="482" y="295" width="1" height="3" fill="#ff0000"/><rect x="483" y="296" width="1" height="2" fill="#ff0000"/><rect x="484" y="296" width="1" height="2" fill="#ff0000"/><rect x="485" y="295" width="1" height="3" fill="#ff0000"/><rect x="486" y="280" width="1" height="17" fill="#ff0000"/><rect x="487" y="280" width="1" height="17" fill="#ff0000"/><rect x="488" y="282" width="1" height="11" fill="#ff0000"/><rect x="489" y="288" width="1" height="6" fill="#ff0000"/><rect x="490" y="292" width="1" height="3" fill="#ff0000"/><rect x="491" y="293" width="1" height="3" fill="#ff0000"/><rect x="492" y="294" width="1" height="4" fill="#ff0000"/><rect x="493" y="294" width="1" height="4" fill="#ff0000"/><rect x="494" y="294" width="1" height="3" fill="#ff0000"/><rect x="495" y="293" width="1" height="3" fill="#ff0000"/><rect x="496" y="293" width="1" height="2" fill="#ff0000"/><rect x="497" y="293" width="1" height="2" fill="#ff0000"/><rect x="498" y="293" width="1" height="2" fill="#ff0000"/><rect x="499" y="293" width="1" height="2" fill="#ff0000"/><rect x="500" y="293" width="1" height="2" fill="#ff0000"/><rect x="501" y="293" width="1" height="3" fill="#ff0000"/><rect x="502" y="294" width="1" height="2" fill="#ff0000"/><rect x="503" y="294" width="1" height="2" fill="#ff0000"/><rect x="504" y="294" width="1" height="2" fill="#ff0000"/><rect x="505" y="293" width="1" height="3" fill="#ff0000"/><rect x="506" y="293" width="1" height="2" fill="#ff0000"/><rect x="507" y="293" width="1" height="2" fill="#ff0000"/><rect x="508" y="293" width="1" height="2" fill="#ff0000"/><rect x="509" y="293" width="1" height="2" fill="#ff0000"/><rect x="510" y="293" width="1" height="2" fill="#ff0000"/><rect x="511" y="293" width="1" height="3" fill="#ff0000"/><rect x="512" y="294" width="1" height="2" fill="#ff0000"/><rect x="513" y="294" width="1" height="2" fill="#ff0000"/><rect x="514" y="293" width="1" height="3" fill="#ff0000"/><rect x="515" y="293" width="1" height="2" fill="#ff0000"/><rect x="516" y="293" width="1" height="2" fill="#ff0000"/><rect x="517" y="293" width="1" height="2" fill="#ff0000"/><rect x="518" y="293" width="1" height="4" fill="#ff0000"/><rect x="519" y="293" width="1" height="4" fill="#ff0000"/><rect x="520" y="293" width="1" height="3" fill="#ff0000"/><rect x="521" y="290" width="1" height="5" fill="#ff0000"/><rect x="522" y="287" width="1" height="7" fill="#ff0000"/><rect x="523" y="286" width="1" height="5" fill="#ff0000"/><rect x="524" y="285" width="1" height="3" fill="#ff0000"/><rect x="525" y="283" width="1" height="4" fill="#ff0000"/><rect x="526" y="282" width="1" height="4" fill="#ff0000"/><rect x="527" y="282" width="1" height="4" fill="#ff0000"/><rect x="528" y="283" width="1" height="5" fill="#ff0000"/><rect x="529" y="285" width="1" height="5" fill="#ff0000"/><rect x="530" y="287" width="1" height="5" fill="#ff0000"/><rect x="531" y="289" width="1" height="5" fill="#ff0000"/><rect x="532" y="291" width="1" height="3" fill="#ff0000"/><rect x="533" y="292" width="1" height="2" fill="#ff0000"/><rect x="534" y="292" width="1" height="2" fill="#ff0000"/><rect x="535" y="292" width="1" height="2" fill="#ff0000"/><rect x="536" y="292" width="1" height="3" fill="#ff0000"/><rect x="537" y="293" width="1" height="3" fill="#ff0000"/><rect x="538" y="294" width="1" height="3" fill="#ff0000"/><rect x="539" y="294" width="1" height="3" fill="#ff0000"/><rect x="540" y="294" width="1" height="2" fill="#ff0000"/><rect x="541" y="294" width="1" height="2" fill="#ff0000"/><rect x="542" y="294" width="1" height="2" fill="#ff0000"/><rect x="543" y="294" width="1" height="2" fill="#ff0000"/><rect x="544" y="294" width="1" height="2" fill="#ff0000"/><rect x="545" y="294" width="1" height="2" fill="#ff0000"/><rect x="546" y="294" width="1" height="2" fill="#ff0000"/><rect x="547" y="294" width="1" height="2" fill="#ff0000"/><rect x="548" y="294" width="1" height="2" fill="#ff0000"/><rect x="549" y="293" width="1" height="3" fill="#ff0000"/><rect x="550" y="293" width="1" height="3" fill="#ff0000"/><rect x="551" y="294" width="1" height="2" fill="#ff0000"/><rect x="552" y="294" width="1" height="2" fill="#ff0000"/><rect x="553" y="294" width="1" height="2" fill="#ff0000"/><rect x="554" y="294" width="1" height="2" fill="#ff0000"/><rect x="555" y="294" width="1" height="2" fill="#ff0000"/><rect x="556" y="294" width="1" height="2" fill="#ff0000"/><rect x="557" y="294" width="1" height="3" fill="#ff0000"/><rect x="558" y="295" width="1" height="2" fill="#ff0000"/><rect x="559" y="295" width="1" height="2" fill="#ff0000"/><rect x="71" y="420" width="488" height="1" fill="#0000ff"/><rect x="73" y="404" width="2" height="16" fill="#0000ff"/><rect x="75" y="411" width="1" height="9" fill="#0000ff"/><rect x="76" y="417" width="2" height="3" fill="#0000ff"/><rect x="78" y="413" width="2" height="7" fill="#0000ff"/><rect x="80" y="417" width="3" height="3" fill="#0000ff"/><rect x="71" y="418" width="2" height="2" fill="#0000ff"/><rect x="86" y="418" width="3" height="2" fill="#0000ff"/><rect x="131" y="419" width="3" height="1" fill="#0000ff"/><rect x="147" y="419" width="4" height="1" fill="#0000ff"/><rect x="173" y="417" width="2" height="3" fill="#0000ff"/><rect x="195" y="418" width="2" height="2" fill="#0000ff"/><rect x="203" y="417" width="3" height="3" fill="#0000ff"/><rect x="209" y="418" width="2" height="2" fill="#0000ff"/><rect x="208" y="401" width="1" height="19" fill="#0000ff"/><rect x="215" y="402" width="2" height="18" fill="#0000ff"/><rect x="230" y="418" width="2" height="2" fill="#0000ff"/><rect x="250" y="419" width="2" height="1" fill="#0000ff"/><rect x="290" y="419" width="3" height="1" fill="#0000ff"/><rect x="296" y="419" width="3" height="1" fill="#0000ff"/><rect x="308" y="419" width="3" height="1" fill="#0000ff"/><rect x="338" y="419" width="2" height="1" fill="#0000ff"/><rect x="348" y="419" width="3" height="1" fill="#0000ff"/><rect x="365" y="419" width="3" height="1" fill="#0000ff"/><rect x="374" y="418" width="3" height="2" fill="#0000ff"/><rect x="380" y="418" width="3" height="2" fill="#0000ff"/><rect x="393" y="418" width="4" height="2" fill="#0000ff"/><rect x="431" y="385" width="2" height="35" fill="#0000ff"/><rect x="433" y="414" width="1" height="6" fill="#0000ff"/><rect x="446" y="419" width="3" height="1" fill="#0000ff"/><rect x="466" y="419" width="3" height="1" fill="#0000ff"/><rect x="486" y="395" width="2" height="25" fill="#0000ff"/><rect x="488" y="418" width="3" height="2" fill="#0000ff"/><rect x="521" y="418" width="6" height="2" fill="#0000ff"/><rect x="523" y="402" width="2" height="18" fill="#0000ff"/><rect x="530" y="416" width="2" height="4" fill="#0000ff"/><rect x="545" y="417" width="2" height="3" fill="#0000ff"/><rect x="207" y="401" width="1" height="1" fill="#0000ff"/></g><g stroke="#fff" stroke-width="0.15"><text x="32.10" y="24" font-family="Liberation Sans, sans-serif" font-size="18.5" stroke-width="0.33" textLength="48.33" lengthAdjust="spacingAndGlyphs">GOES</text><text x="89.95" y="24" font-family="Liberation Sans, sans-serif" font-size="18.5" stroke-width="0.33" textLength="40.10" lengthAdjust="spacingAndGlyphs">Xray</text><text x="140.00" y="24" font-family="Liberation Sans, sans-serif" font-size="18.5" stroke-width="0.33" textLength="34.95" lengthAdjust="spacingAndGlyphs">Flux</text><text x="185.87" y="24" font-family="Liberation Sans, sans-serif" font-size="18.5" stroke-width="0.33" textLength="18.65" lengthAdjust="spacingAndGlyphs">(5</text><text x="215.89" y="24" font-family="Liberation Sans, sans-serif" font-size="18.5" stroke-width="0.33" textLength="61.70" lengthAdjust="spacingAndGlyphs">minute</text><text x="286.82" y="24" font-family="Liberation Sans, sans-serif" font-size="18.5" stroke-width="0.33" textLength="49.55" lengthAdjust="spacingAndGlyphs">data)</text><text x="406.00" y="29" font-family="Liberation Sans, sans-serif" font-size="15.5" stroke-width="0.21" textLength="43.95" lengthAdjust="spacingAndGlyphs">Begin:</text><text x="464.91" y="29" font-family="Liberation Sans, sans-serif" font-size="15.5" stroke-width="0.21" textLength="37.62" lengthAdjust="spacingAndGlyphs">2012</text><text x="509.04" y="29" font-family="Liberation Sans, sans-serif" font-size="15.5" stroke-width="0.21" textLength="25.65" lengthAdjust="spacingAndGlyphs">Feb</text><text x="543.00" y="29" font-family="Liberation Sans, sans-serif" font-size="15.5" stroke-width="0.21" textLength="17.25" lengthAdjust="spacingAndGlyphs">16</text><text x="567.91" y="29" font-family="Liberation Sans, sans-serif" font-size="15.5" stroke-width="0.21" textLength="37.62" lengthAdjust="spacingAndGlyphs">0000</text><text x="613.17" y="29" font-family="Liberation Sans, sans-serif" font-size="15.5" stroke-width="0.21" textLength="26.55" lengthAdjust="spacingAndGlyphs">UTC</text><text x="49.04" y="438" font-family="Liberation Sans, sans-serif" font-size="14" stroke-width="0.15" textLength="23.08" lengthAdjust="spacingAndGlyphs">Feb</text><text x="79.93" y="438" font-family="Liberation Sans, sans-serif" font-size="14" stroke-width="0.15" textLength="16.69" lengthAdjust="spacingAndGlyphs">16</text><text x="212.04" y="438" font-family="Liberation Sans, sans-serif" font-size="14" stroke-width="0.15" textLength="23.08" lengthAdjust="spacingAndGlyphs">Feb</text><text x="242.93" y="438" font-family="Liberation Sans, sans-serif" font-size="14" stroke-width="0.15" textLength="16.69" lengthAdjust="spacingAndGlyphs">17</text><text x="374.04" y="438" font-family="Liberation Sans, sans-serif" font-size="14" stroke-width="0.15" textLength="23.08" lengthAdjust="spacingAndGlyphs">Feb</text><text x="404.93" y="438" font-family="Liberation Sans, sans-serif" font-size="14" stroke-width="0.15" textLength="16.69" lengthAdjust="spacingAndGlyphs">18</text><text x="537.04" y="438" font-family="Liberation Sans, sans-serif" font-size="14" stroke-width="0.15" textLength="23.08" lengthAdjust="spacingAndGlyphs">Feb</text><text x="568.00" y="438" font-family="Liberation Sans, sans-serif" font-size="14" stroke-width="0.15" textLength="15.58" lengthAdjust="spacingAndGlyphs">19</text><text x="267.98" y="454" font-family="Liberation Sans, sans-serif" font-size="14" stroke-width="0.15" textLength="59.38" lengthAdjust="spacingAndGlyphs">Universal</text><text x="334.00" y="454" font-family="Liberation Sans, sans-serif" font-size="14" stroke-width="0.15" textLength="30.59" lengthAdjust="spacingAndGlyphs">Time</text><text x="0.00" y="475" font-family="Liberation Sans, sans-serif" font-size="15.5" stroke-width="0.21" textLength="58.61" lengthAdjust="spacingAndGlyphs">Updated</text><text x="66.94" y="475" font-family="Liberation Sans, sans-serif" font-size="15.5" stroke-width="0.21" textLength="36.57" lengthAdjust="spacingAndGlyphs">2012</text><text x="111.00" y="475" font-family="Liberation Sans, sans-serif" font-size="15.5" stroke-width="0.21" textLength="26.72" lengthAdjust="spacingAndGlyphs">Feb</text><text x="144.87" y="475" font-family="Liberation Sans, sans-serif" font-size="15.5" stroke-width="0.21" textLength="19.55" lengthAdjust="spacingAndGlyphs">18</text><text x="169.93" y="475" font-family="Liberation Sans, sans-serif" font-size="15.5" stroke-width="0.21" textLength="64.43" lengthAdjust="spacingAndGlyphs">23:55:12</text><text x="243.13" y="475" font-family="Liberation Sans, sans-serif" font-size="15.5" stroke-width="0.21" textLength="27.61" lengthAdjust="spacingAndGlyphs">UTC</text><text x="425.09" y="475" font-family="Liberation Sans, sans-serif" font-size="15.5" stroke-width="0.21" textLength="86.59" lengthAdjust="spacingAndGlyphs">NOAA/SWPC</text><text x="518.96" y="475" font-family="Liberation Sans, sans-serif" font-size="15.5" stroke-width="0.21" textLength="58.96" lengthAdjust="spacingAndGlyphs">Boulder,</text><text x="584.09" y="475" font-family="Liberation Sans, sans-serif" font-size="15.5" stroke-width="0.21" textLength="21.14" lengthAdjust="spacingAndGlyphs">CO</text><text x="613.10" y="475" font-family="Liberation Sans, sans-serif" font-size="15.5" stroke-width="0.21" textLength="28.79" lengthAdjust="spacingAndGlyphs">USA</text><text x="40.00" y="45" font-family="Liberation Sans, sans-serif" font-size="14" stroke-width="0.15" textLength="15.58" lengthAdjust="spacingAndGlyphs">10</text><text x="56.00" y="39" font-family="Liberation Sans, sans-serif" font-size="11" stroke-width="0.10" textLength="6.44" lengthAdjust="spacingAndGlyphs">−</text><text x="63.00" y="38" font-family="Liberation Sans, sans-serif" font-size="9" stroke-width="0.10" textLength="5.02" lengthAdjust="spacingAndGlyphs">2</text><text x="40.00" y="96" font-family="Liberation Sans, sans-serif" font-size="14" stroke-width="0.15" textLength="15.58" lengthAdjust="spacingAndGlyphs">10</text><text x="56.00" y="90" font-family="Liberation Sans, sans-serif" font-size="11" stroke-width="0.10" textLength="6.44" lengthAdjust="spacingAndGlyphs">−</text><text x="63.00" y="89" font-family="Liberation Sans, sans-serif" font-size="9" stroke-width="0.10" textLength="5.02" lengthAdjust="spacingAndGlyphs">3</text><text x="40.00" y="151" font-family="Liberation Sans, sans-serif" font-size="14" stroke-width="0.15" textLength="15.58" lengthAdjust="spacingAndGlyphs">10</text><text x="56.00" y="145" font-family="Liberation Sans, sans-serif" font-size="11" stroke-width="0.10" textLength="6.44" lengthAdjust="spacingAndGlyphs">−</text><text x="63.00" y="144" font-family="Liberation Sans, sans-serif" font-size="9" stroke-width="0.10" textLength="6.27" lengthAdjust="spacingAndGlyphs">4</text><text x="40.00" y="206" font-family="Liberation Sans, sans-serif" font-size="14" stroke-width="0.15" textLength="15.58" lengthAdjust="spacingAndGlyphs">10</text><text x="56.00" y="200" font-family="Liberation Sans, sans-serif" font-size="11" stroke-width="0.10" textLength="6.44" lengthAdjust="spacingAndGlyphs">−</text><text x="63.00" y="199" font-family="Liberation Sans, sans-serif" font-size="9" stroke-width="0.10" textLength="5.02" lengthAdjust="spacingAndGlyphs">5</text><text x="40.00" y="260" font-family="Liberation Sans, sans-serif" font-size="14" stroke-width="0.15" textLength="15.58" lengthAdjust="spacingAndGlyphs">10</text><text x="56.00" y="254" font-family="Liberation Sans, sans-serif" font-size="11" stroke-width="0.10" textLength="6.44" lengthAdjust="spacingAndGlyphs">−</text><text x="63.00" y="253" font-family="Liberation Sans, sans-serif" font-size="9" stroke-width="0.10" textLength="5.02" lengthAdjust="spacingAndGlyphs">6</text><text x="40.00" y="315" font-family="Liberation Sans, sans-serif" font-size="14" stroke-width="0.15" textLength="15.58" lengthAdjust="spacingAndGlyphs">10</text><text x="56.00" y="309" font-family="Liberation Sans, sans-serif" font-size="11" stroke-width="0.10" textLength="6.44" lengthAdjust="spacingAndGlyphs">−</text><text x="63.00" y="308" font-family="Liberation Sans, sans-serif" font-size="9" stroke-width="0.10" textLength="5.02" lengthAdjust="spacingAndGlyphs">7</text><text x="40.00" y="370" font-family="Liberation Sans, sans-serif" font-size="14" stroke-width="0.15" textLength="15.58" lengthAdjust="spacingAndGlyphs">10</text><text x="56.00" y="364" font-family="Liberation Sans, sans-serif" font-size="11" stroke-width="0.10" textLength="6.44" lengthAdjust="spacingAndGlyphs">−</text><text x="63.00" y="363" font-family="Liberation Sans, sans-serif" font-size="9" stroke-width="0.10" textLength="5.02" lengthAdjust="spacingAndGlyphs">8</text><text x="40.00" y="420" font-family="Liberation Sans, sans-serif" font-size="14" stroke-width="0.15" textLength="15.58" lengthAdjust="spacingAndGlyphs">10</text><text x="56.00" y="414" font-family="Liberation Sans, sans-serif" font-size="11" stroke-width="0.10" textLength="6.44" lengthAdjust="spacingAndGlyphs">−</text><text x="63.00" y="413" font-family="Liberation Sans, sans-serif" font-size="9" stroke-width="0.10" textLength="5.02" lengthAdjust="spacingAndGlyphs">9</text><text transform="translate(23,0) rotate(-90)" x="-263.00" y="0" font-family="Liberation Sans, sans-serif" font-size="17.5" stroke-width="0.29" textLength="13.43" lengthAdjust="spacingAndGlyphs">W</text><text transform="translate(23,0) rotate(-90)" x="-251.26" y="0" font-family="Liberation Sans, sans-serif" font-size="17.5" stroke-width="0.29" textLength="35.53" lengthAdjust="spacingAndGlyphs">atts</text><text transform="translate(23,0) rotate(-90)" x="-204.08" y="0" font-family="Liberation Sans, sans-serif" font-size="17.5" stroke-width="0.29" textLength="15.70" lengthAdjust="spacingAndGlyphs">m</text><text transform="translate(15,0) rotate(-90)" x="-187.00" y="0" font-family="Liberation Sans, sans-serif" font-size="10" stroke-width="0.10" textLength="7.01" lengthAdjust="spacingAndGlyphs">−</text><text transform="translate(15,0) rotate(-90)" x="-180.00" y="0" font-family="Liberation Sans, sans-serif" font-size="10" stroke-width="0.10" textLength="5.56" lengthAdjust="spacingAndGlyphs">2</text><text x="565.12" y="120" font-family="Liberation Serif, serif" font-size="13.5" font-weight="bold" stroke="none" textLength="8.53" lengthAdjust="spacingAndGlyphs">X</text><text x="566.00" y="174" font-family="Liberation Serif, serif" font-size="13.5" font-weight="bold" stroke="none" textLength="9.56" lengthAdjust="spacingAndGlyphs">M</text><text x="565.12" y="229" font-family="Liberation Serif, serif" font-size="13.5" font-weight="bold" stroke="none" textLength="8.53" lengthAdjust="spacingAndGlyphs">C</text><text x="566.00" y="284" font-family="Liberation Serif, serif" font-size="13.5" font-weight="bold" stroke="none" textLength="7.01" lengthAdjust="spacingAndGlyphs">B</text><text x="566.00" y="339" font-family="Liberation Serif, serif" font-size="13.5" font-weight="bold" stroke="none" textLength="6.82" lengthAdjust="spacingAndGlyphs">A</text><text transform="translate(596,0) rotate(-90)" x="-239.98" y="0" font-family="Liberation Sans, sans-serif" font-size="15.5" fill="#ff0000" stroke-width="0.21" textLength="61.01" lengthAdjust="spacingAndGlyphs">GOES15</text><text transform="translate(596,0) rotate(-90)" x="-170.15" y="0" font-family="Liberation Sans, sans-serif" font-size="15.5" fill="#ff0000" stroke-width="0.21" textLength="24.80" lengthAdjust="spacingAndGlyphs">1.0</text><text transform="translate(596,0) rotate(-90)" x="-144.25" y="0" font-family="Liberation Sans, sans-serif" font-size="15.5" fill="#ff0000" stroke-width="0.21" textLength="11.33" lengthAdjust="spacingAndGlyphs">−</text><text transform="translate(596,0) rotate(-90)" x="-132.15" y="0" font-family="Liberation Sans, sans-serif" font-size="15.5" fill="#ff0000" stroke-width="0.21" textLength="24.80" lengthAdjust="spacingAndGlyphs">8.0</text><text transform="translate(596,0) rotate(-90)" x="-99.00" y="0" font-family="Liberation Sans, sans-serif" font-size="15.5" fill="#ff0000" stroke-width="0.21" textLength="10.34" lengthAdjust="spacingAndGlyphs">A</text><text transform="translate(596,0) rotate(-90)" x="-417.98" y="0" font-family="Liberation Sans, sans-serif" font-size="15.5" fill="#0000ff" stroke-width="0.21" textLength="61.01" lengthAdjust="spacingAndGlyphs">GOES15</text><text transform="translate(596,0) rotate(-90)" x="-347.15" y="0" font-family="Liberation Sans, sans-serif" font-size="15.5" fill="#0000ff" stroke-width="0.21" textLength="24.80" lengthAdjust="spacingAndGlyphs">0.5</text><text transform="translate(596,0) rotate(-90)" x="-321.25" y="0" font-family="Liberation Sans, sans-serif" font-size="15.5" fill="#0000ff" stroke-width="0.21" textLength="11.33" lengthAdjust="spacingAndGlyphs">−</text><text transform="translate(596,0) rotate(-90)" x="-308.00" y="0" font-family="Liberation Sans, sans-serif" font-size="15.5" fill="#0000ff" stroke-width="0.21" textLength="23.62" lengthAdjust="spacingAndGlyphs">4.0</text><text transform="translate(596,0) rotate(-90)" x="-277.00" y="0" font-family="Liberation Sans, sans-serif" font-size="15.5" fill="#0000ff" stroke-width="0.21" textLength="10.34" lengthAdjust="spacingAndGlyphs">A</text></g></svg></body></html>
